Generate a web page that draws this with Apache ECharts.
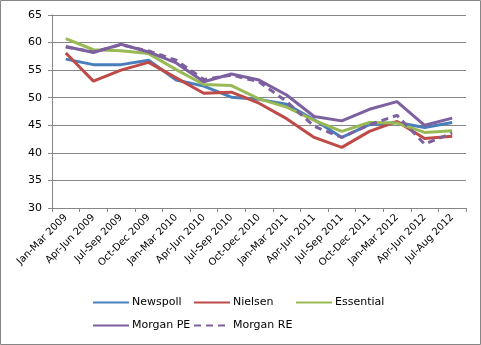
<!DOCTYPE html>
<html><head><meta charset="utf-8">
<script src="https://cdn.jsdelivr.net/npm/echarts@6/dist/echarts.min.js"></script>
<style>html,body{margin:0;padding:0;background:#fff}#c{width:481px;height:345px}</style>
</head><body><div id="c"></div>
<script>
const categories = ["Jan-Mar 2009","Apr-Jun 2009","Jul-Sep 2009","Oct-Dec 2009","Jan-Mar 2010","Apr-Jun 2010","Jul-Sep 2010","Oct-Dec 2010","Jan-Mar 2011","Apr-Jun 2011","Jul-Sep 2011","Oct-Dec 2011","Jan-Mar 2012","Apr-Jun 2012","Jul-Aug 2012"];
const newspoll  = [57.0,56.0,56.0,56.8,53.2,52.1,50.1,49.7,48.8,46.0,42.8,45.1,45.5,44.6,45.5];
const nielsen   = [58.1,53.0,55.0,56.4,53.6,50.8,51.0,49.0,46.2,42.8,41.0,43.9,45.7,42.6,43.0];
const essential = [60.7,58.7,58.5,58.0,55.1,52.4,52.2,49.8,48.3,45.9,43.9,45.5,45.4,43.7,44.0];
const morganPE  = [59.3,58.2,59.7,58.3,56.3,52.9,54.3,53.2,50.5,46.6,45.8,47.9,49.3,45.0,46.3];
const morganRE  = [59.2,58.3,59.6,58.5,56.8,53.3,54.1,52.9,49.3,44.8,42.8,45.1,46.8,41.6,43.6];
const yTicks = [30,35,40,45,50,55,60,65];

const font = 'DejaVu Sans';
const gray = '#868686';
function ser(name, data, color, dashed) {
  return {name, type:'line', data, symbol:'none', smooth:false,
    lineStyle:{color, width:3, type: dashed ? [7,5] : 'solid', cap:'butt'},
    itemStyle:{color}};
}
function leg(name, left, top) {
  return {data:[name], left, top, itemWidth:36, itemHeight:10, itemGap:0,
    itemStyle:{opacity:0},
    textStyle:{fontFamily:font, fontSize:11, color:'#000', padding:[0,0,0,-2]}, padding:0};
}
const chart = echarts.init(document.getElementById('c'));
chart.setOption({
  animation:false,
  graphic:[{type:'rect', shape:{x:0.5,y:0.5,width:480,height:344}, style:{fill:'none', stroke:gray, lineWidth:1}}],
  grid:{left:52, right:15, top:15, bottom:137},
  xAxis:{type:'category', data:categories, boundaryGap:true,
    axisLine:{lineStyle:{color:gray}}, axisTick:{show:true, length:4, lineStyle:{color:gray}, interval:0},
    axisLabel:{rotate:45, interval:0, margin:8, fontFamily:font, fontSize:10, color:'#000'}},
  yAxis:{type:'value', min:30, max:65, interval:5,
    axisLine:{show:true, lineStyle:{color:gray}}, axisTick:{show:true, length:4, lineStyle:{color:gray}},
    splitLine:{lineStyle:{color:gray}},
    axisLabel:{margin:10, fontFamily:font, fontSize:11, color:'#000',
      formatter: v => yTicks.includes(v) ? String(v) : ''}},
  legend:[leg('Newspoll',92,297), leg('Nielsen',193,297), leg('Essential',295,297),
          leg('Morgan PE',92,320), leg('Morgan RE',193,320)],
  series:[ser('Newspoll',newspoll,'#4A7EBB'), ser('Nielsen',nielsen,'#BE4B48'),
          ser('Essential',essential,'#98B954'), ser('Morgan PE',morganPE,'#7D60A0'),
          ser('Morgan RE',morganRE,'#7D60A0',true)]
});
</script></body></html>
